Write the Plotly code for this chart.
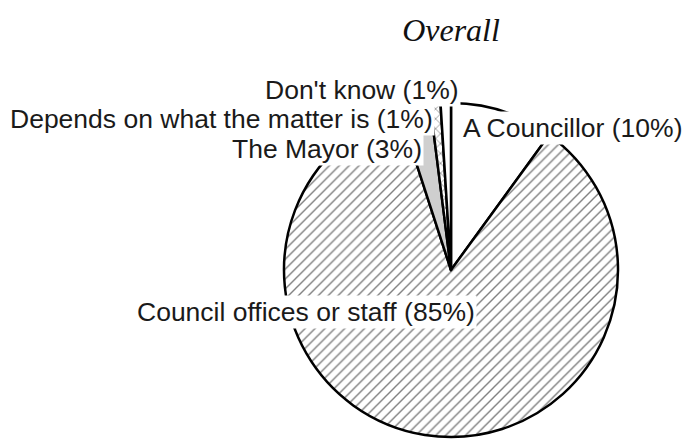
import plotly.graph_objects as go

# data
labels = ["A Councillor", "Council offices or staff", "The Mayor",
          "Depends on what the matter is", "Don't know"]
values = [10, 85, 3, 1, 1]
fills = ["white", "white", "#cfcfcf", "white", "white"]
hatches = ["", "/", "", "x", ""]

# where each label sits (pixel centre in the 688x441 page)
label_pos = {
    "A Councillor": (572, 128),
    "Council offices or staff": (306, 312),
    "The Mayor": (327, 149),
    "Depends on what the matter is": (221, 119),
    "Don't know": (362, 90),
}

W, H = 688, 441
cx, cy, r = 451, 270, 167

pie = go.Pie(
    labels=labels, values=values, sort=False, direction="clockwise", rotation=0,
    textinfo="none", hoverinfo="label+percent", showlegend=False,
    marker=dict(colors=fills, line=dict(color="black", width=2.5),
                pattern=dict(shape=hatches, fgcolor="black", size=7, solidity=0.2,
                             fillmode="overlay")),
    domain=dict(x=[(cx - r) / W, (cx + r) / W], y=[1 - (cy + r) / H, 1 - (cy - r) / H]),
)

fig = go.Figure(data=[pie])

total = sum(values)
for lab, v in zip(labels, values):
    px, py = label_pos[lab]
    fig.add_annotation(
        x=px / W, y=1 - py / H, xref="paper", yref="paper",
        text="%s (%d%%)" % (lab, round(100 * v / total)),
        showarrow=False, xanchor="center", yanchor="middle",
        font=dict(family="Liberation Sans, Arial", size=26.5, color="#1a1a1a"),
        bgcolor="white", borderpad=1,
    )

fig.update_layout(
    width=W, height=H,
    margin=dict(l=0, r=0, t=0, b=0),
    paper_bgcolor="white", plot_bgcolor="white",
    title=dict(text="<i>Overall</i>", x=451 / W, xanchor="center", y=1 - 30 / H, yanchor="middle",
               font=dict(family="Liberation Serif, Times New Roman", size=32, color="#111111")),
)

# page body has an 8px default margin; drop it so the figure sits at 0,0
fig.write_html("out.html", config={"displayModeBar": False},
               post_script="document.body.style.margin='0';")
